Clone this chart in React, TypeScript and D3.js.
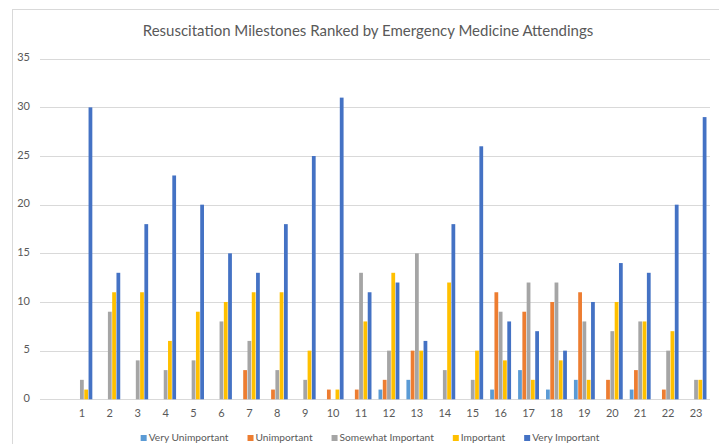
import React, { useEffect, useRef } from 'react';
import * as d3 from 'd3';

const categories = ['', '1', '2', '3', '4', '5', '6', '7', '8', '9', '10', '11', '12', '13', '14', '15', '16', '17', '18', '19', '20', '21', '22', '23'];
const seriesNames = ['Very Unimportant', 'Unimportant', 'Somewhat Important', 'Important', 'Very Important'];
const seriesColors = ['#5B9BD5', '#ED7D31', '#A5A5A5', '#FFC000', '#4472C4'];

// one value per category (first category is the empty one)
const veryUnimportant = [0, 0, 0, 0, 0, 0, 0, 0, 0, 0, 0, 0, 1, 2, 0, 0, 1, 3, 1, 2, 0, 1, 0, 0];
const unimportant = [0, 0, 0, 0, 0, 0, 0, 3, 1, 0, 1, 1, 2, 5, 0, 0, 11, 9, 10, 11, 2, 3, 1, 0];
const somewhatImportant = [0, 2, 9, 4, 3, 4, 8, 6, 3, 2, 0, 13, 5, 15, 3, 2, 9, 12, 12, 8, 7, 8, 5, 2];
const important = [0, 1, 11, 11, 6, 9, 10, 11, 11, 5, 1, 8, 13, 5, 12, 5, 4, 2, 4, 2, 10, 8, 7, 2];
const veryImportant = [0, 30, 13, 18, 23, 20, 15, 13, 18, 25, 31, 11, 12, 6, 18, 26, 8, 7, 5, 10, 14, 13, 20, 29];
const yTicks = [0, 5, 10, 15, 20, 25, 30, 35];

const seriesValues = [veryUnimportant, unimportant, somewhatImportant, important, veryImportant];

const W = 719;
const H = 444;
const FONT = 'Lato, "Open Sans", sans-serif';

const drawChart = (el: SVGSVGElement) => {
  const svg = d3.select(el);
  svg.selectAll('*').remove();

  const plot = { left: 40, right: 710, top: 58.7, bottom: 399.3 };

  // chart frame
  svg.append('rect')
    .attr('x', 12.5).attr('y', 9.5)
    .attr('width', 720).attr('height', 450)
    .attr('fill', '#fff').attr('stroke', '#d9d9d9');

  svg.append('text')
    .attr('x', 368).attr('y', 32)
    .attr('text-anchor', 'middle').attr('dominant-baseline', 'middle')
    .attr('font-family', FONT).attr('font-size', 15).attr('fill', '#595959')
    .text('Resuscitation Milestones Ranked by Emergency Medicine Attendings');

  const y = d3.scaleLinear().domain([0, 35]).range([plot.bottom, plot.top]);
  const x0 = d3.scaleBand<string>().domain(categories).range([plot.left, plot.right]);
  const x1 = d3.scaleBand<string>()
    .domain(seriesNames)
    .range([0, x0.bandwidth()])
    .paddingInner(0.12)
    .paddingOuter(0.82);

  const grid = svg.append('g');
  grid.selectAll('line').data(yTicks).join('line')
    .attr('x1', plot.left).attr('x2', plot.right)
    .attr('y1', (d) => Math.round(y(d)) + 0.5).attr('y2', (d) => Math.round(y(d)) + 0.5)
    .attr('stroke', '#d9d9d9').attr('stroke-width', 1);
  grid.selectAll('text').data(yTicks).join('text')
    .attr('x', 30).attr('y', (d) => y(d))
    .attr('text-anchor', 'end').attr('dominant-baseline', 'middle')
    .attr('font-family', FONT).attr('font-size', 11).attr('fill', '#595959')
    .text((d) => d);

  const bars = svg.append('g');
  seriesNames.forEach((name, si) => {
    bars.append('g')
      .selectAll('rect')
      .data(seriesValues[si].map((v, i) => ({ cat: categories[i], v })).filter((d) => d.v > 0))
      .join('rect')
      .attr('x', (d) => (x0(d.cat) ?? 0) + (x1(name) ?? 0))
      .attr('width', x1.bandwidth())
      .attr('y', (d) => y(d.v))
      .attr('height', (d) => y(0) - y(d.v))
      .attr('fill', seriesColors[si]);
  });

  svg.append('g').selectAll('text').data(categories.filter((c) => c !== '')).join('text')
    .attr('x', (d) => (x0(d) ?? 0) + x0.bandwidth() / 2)
    .attr('y', 414)
    .attr('text-anchor', 'middle').attr('dominant-baseline', 'middle')
    .attr('font-family', FONT).attr('font-size', 11).attr('fill', '#595959')
    .text((d) => d);

  // legend, laid out from measured text widths and centred
  const legend = svg.append('g');
  const items = seriesNames.map((name, i) => {
    const g = legend.append('g');
    g.append('rect').attr('x', 0).attr('y', -3).attr('width', 6).attr('height', 6).attr('fill', seriesColors[i]);
    const t = g.append('text')
      .attr('x', 8).attr('y', 0)
      .attr('dominant-baseline', 'middle')
      .attr('font-family', FONT).attr('font-size', 10.2).attr('fill', '#595959')
      .text(name);
    const w = 8 + (t.node() as SVGTextElement).getComputedTextLength();
    return { g, w };
  });
  const gap = 19;
  const total = d3.sum(items, (d) => d.w) + gap * (items.length - 1);
  let cx = 370 - total / 2;
  items.forEach(({ g, w }) => {
    g.attr('transform', `translate(${cx},438)`);
    cx += w + gap;
  });
};

export default function App() {
  const ref = useRef<SVGSVGElement>(null);

  useEffect(() => {
    if (ref.current) drawChart(ref.current);
  }, []);

  return (
    <svg
      ref={ref}
      width={W}
      height={H}
      style={{ position: 'absolute', left: 0, top: 0, background: '#fff' }}
    />
  );
}
